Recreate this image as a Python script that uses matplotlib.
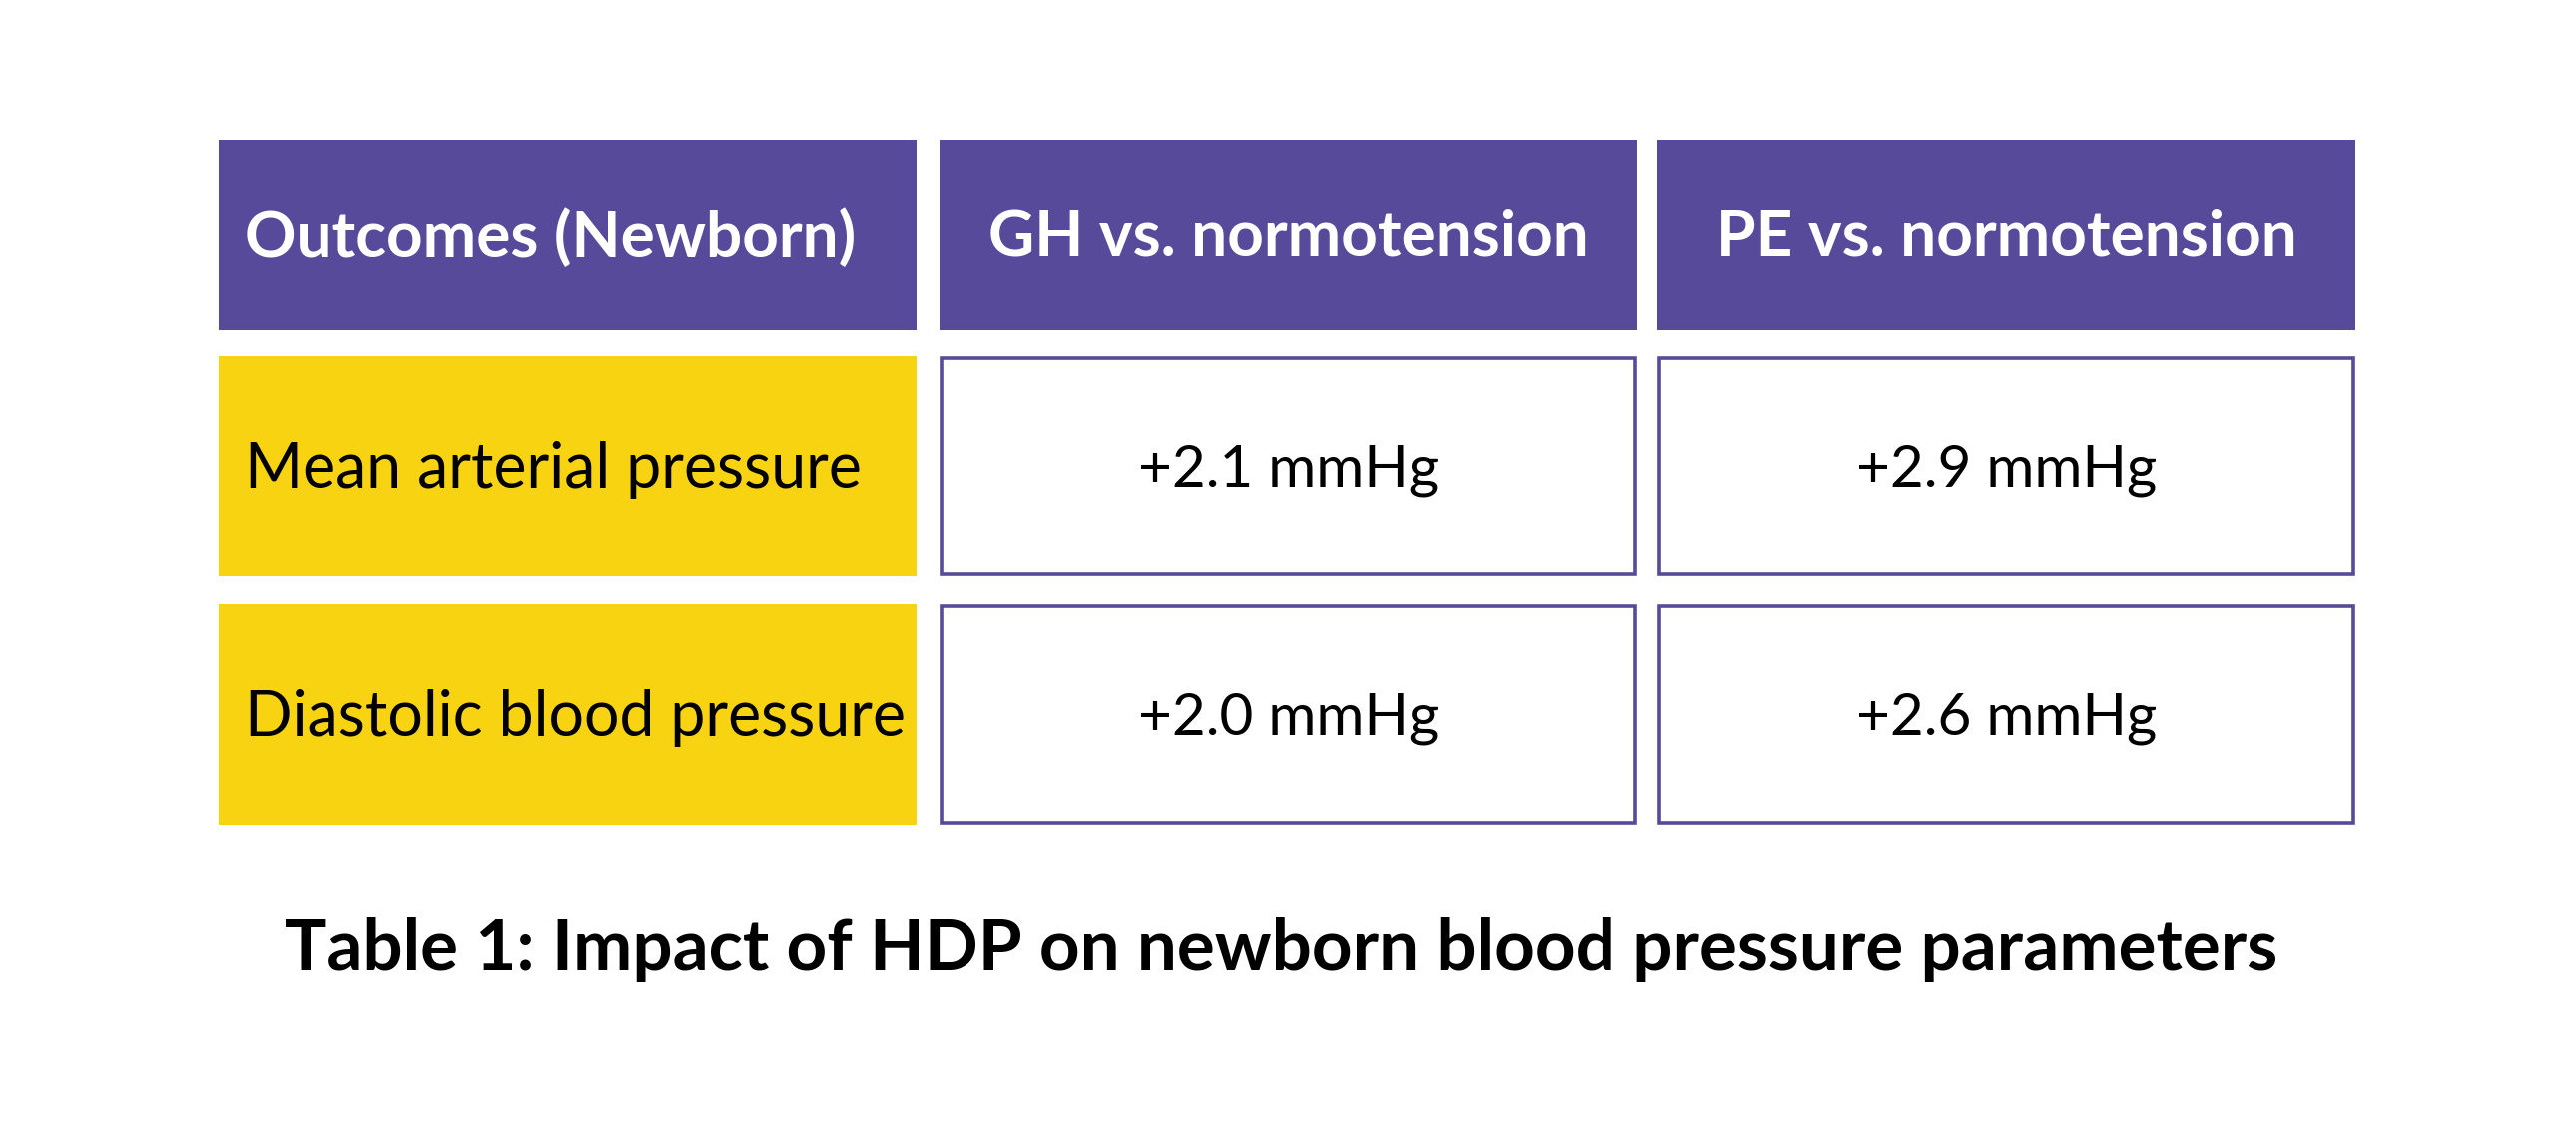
import matplotlib
matplotlib.use("Agg")
import matplotlib.pyplot as plt
from matplotlib.patches import Rectangle

# ---- data ----
headers = ["Outcomes (Newborn)", "GH vs. normotension", "PE vs. normotension"]
outcomes = ["Mean arterial pressure", "Diastolic blood pressure"]
gh_values = ["+2.1 mmHg", "+2.0 mmHg"]
pe_values = ["+2.9 mmHg", "+2.6 mmHg"]
title = "Table 1: Impact of HDP on newborn blood pressure parameters"

# ---- style ----
PURPLE = "#574A9A"
YELLOW = "#F7D312"
W, H = 2580, 1131
fig = plt.figure(figsize=(W / 100, H / 100), dpi=100)
ax = fig.add_axes([0, 0, 1, 1])
ax.set_xlim(0, W)
ax.set_ylim(H, 0)
ax.axis("off")

col_x = [(219, 918), (941, 1640), (1660, 2359)]
header_y = (140, 331)
row_y = [(357, 577), (605, 826)]
pad = 26
FONT = "Lato"

def cell(x0, x1, y0, y1, face, edge=None, lw=0):
    ax.add_patch(Rectangle((x0, y0), x1 - x0, y1 - y0, facecolor=face,
                           edgecolor=edge if edge else face, linewidth=lw))

# header
for (x0, x1), txt in zip(col_x, headers):
    cell(x0, x1, *header_y, PURPLE)
    yc = sum(header_y) / 2 + 2
    if txt == headers[0]:
        ax.text(x0 + pad, yc, txt, ha="left", va="center", color="white",
                fontsize=46, fontweight="bold", family=FONT)
    else:
        ax.text((x0 + x1) / 2, yc, txt, ha="center", va="center", color="white",
                fontsize=46, fontweight="bold", family=FONT)

# body
for i, (y0, y1) in enumerate(row_y):
    yc = (y0 + y1) / 2 + 4
    x0, x1 = col_x[0]
    cell(x0, x1, y0, y1, YELLOW)
    ax.text(x0 + pad, yc, outcomes[i], ha="left", va="center", color="black",
            fontsize=45, family=FONT)
    for (cx0, cx1), vals in zip(col_x[1:], [gh_values, pe_values]):
        cell(cx0 + 2, cx1 - 2, y0 + 2, y1 - 2, "white", PURPLE, 2.6)
        ax.text((cx0 + cx1) / 2, yc, vals[i], ha="center", va="center",
                color="black", fontsize=42, family=FONT)

ax.text(1283, 951, title, ha="center", va="center", color="black",
        fontsize=51, fontweight="bold", family=FONT)

fig.savefig("out.png", dpi=100, facecolor="white")
